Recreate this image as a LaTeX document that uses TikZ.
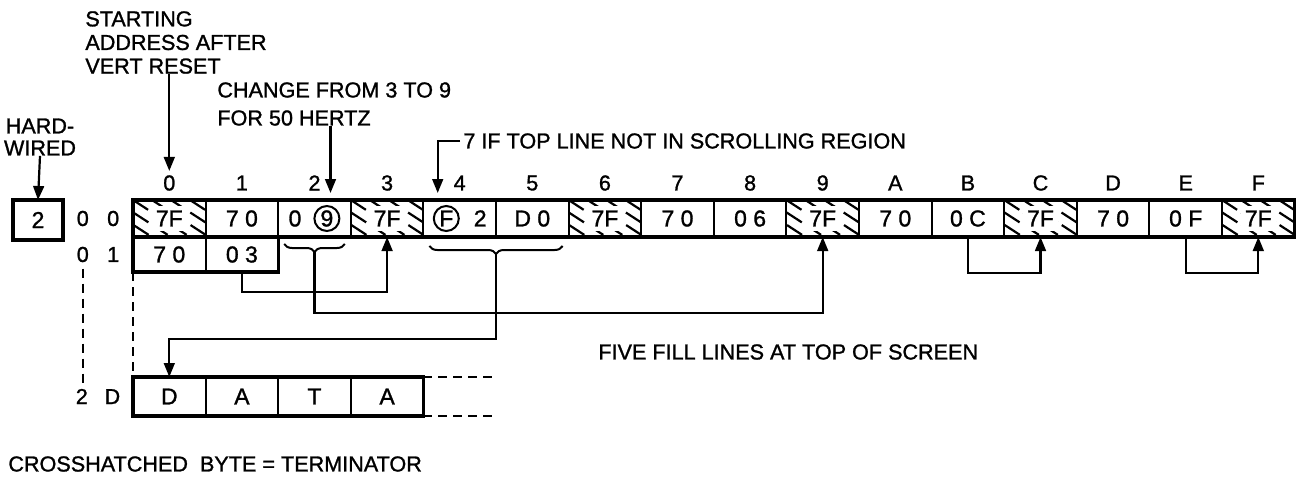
\documentclass[tikz,border=0pt]{standalone}
\usepackage{fontspec}
\setmainfont{Liberation Sans}[UprightFeatures={FakeBold=1.2}]
\usetikzlibrary{positioning, calc, arrows.meta, decorations.pathreplacing}
\tikzset{
  >={Triangle[length=7pt, width=5.4pt]},
  vt cell/.style={draw=black, minimum width=36.3pt, minimum height=18.5pt, inner sep=0pt,
    outer sep=0pt, line width=1pt, font=\fontsize{11.5}{12}\selectfont},
  vt txt/.style={fill=white, inner sep=2.2pt, font=\fontsize{11.5}{12}\selectfont},
  vt lab/.style={font=\fontsize{10.8}{12}\selectfont, inner sep=0pt},
  vt note/.style={font=\fontsize{10.8}{11.8}\selectfont, inner sep=0pt, align=left},
  vt arr/.style={draw=black, ->, line width=1.1pt},
  vt hatch/.style={draw=black, line width=1.1pt, dash pattern=on 9pt off 2.5pt},
  vt dash/.style={draw=black, line width=1.1pt, dash pattern=on 4.5pt off 3pt},
  vt brace/.style={draw=black, line width=1pt, decorate, decoration={brace, mirror, amplitude=4pt}},
  vt ring/.style={draw=black, circle, inner sep=0pt, minimum size=12.5pt, line width=1pt},
  vt frame/.style={draw=black, line width=1.7pt},
}
\newcommand\ringed[1]{\tikz[baseline=(rg.base)]\node[vt ring](rg){#1};}

\begin{document}
\begin{tikzpicture}[x=0.5pt, y=-0.5pt]
 \useasboundingbox (0,0) rectangle (1304,481);
 % row 00: sixteen bytes, hatched ones are terminators
 \foreach \cname/\ctext/\chat [count=\n from 0] in {0/7F/1, 1/{7 0}/0, 2/{0\hspace{6pt}\ringed{9}}/0,
     3/7F/1, 4/{\ringed{F}\hspace{7pt}2}/0, 5/{D 0}/0, 6/7F/1, 7/{7 0}/0, 8/{0 6}/0, 9/7F/1,
     A/{7 0}/0, B/{0 C}/0, C/7F/1, D/{7 0}/0, E/{0 F}/0, F/7F/1} {
   \node[vt cell] (b\cname) at ({169.3+72.6*\n},218.5) {};
   \ifnum\chat=1
     \begin{scope}
       \clip (b\cname.north west) rectangle (b\cname.south east);
       \foreach \k in {-3,...,4}
         \draw[vt hatch] ([xshift=\k*9.5pt]b\cname.north west) -- ++(60,39);
     \end{scope}
   \fi
   \node[vt txt] at (b\cname) {\ctext};
   \node[vt lab] (l\cname) at ([yshift=8.5pt]b\cname.north) {\cname};
 }
 \node[vt cell, minimum height=17.5pt, below=0pt of b0] (r0) {7 0};
 \node[vt cell, minimum height=17.5pt, right=0pt of r0] (r1) {0 3};
 \node[vt cell, minimum height=19.5pt] (d0) at (169.3,396.5) {D};
 \node[vt cell, minimum height=19.5pt, right=0pt of d0] (d1) {A};
 \node[vt cell, minimum height=19.5pt, right=0pt of d1] (d2) {T};
 \node[vt cell, minimum height=19.5pt, right=0pt of d2] (d3) {A};
 \draw[vt frame] (b0.north west) rectangle (bF.south east);
 \draw[vt frame] (r0.north west) rectangle (r1.south east);
 \draw[vt frame] (d0.north west) rectangle (d3.south east);
 \draw[vt dash] (d3.north east) -- ++(70,0);
 \draw[vt dash] (d3.south east) -- ++(70,0);

 % row addresses
 \node[vt cell, minimum width=25pt, minimum height=20pt, line width=1.6pt] (hw2) at (38,220) {2};
 \node[vt lab, font=\fontsize{10.8}{12}\selectfont] (row00) at (98,218.5) {0\hspace{9.2pt}0};
 \node[vt lab, font=\fontsize{10.8}{12}\selectfont] (row01) at (98,254.5) {0\hspace{9.2pt}1};
 \node[vt lab, font=\fontsize{10.8}{12}\selectfont] (row2D) at (98,396.5) {2\hspace{8.4pt}D};
 \draw[vt dash] ([xshift=-7.5pt,yshift=-3pt]row01.south) -- ([xshift=-7.5pt,yshift=3pt]row2D.north);
 \draw[vt dash] (r0.south west) -- (d0.north west);

 % notes
 \node[vt note, align=center, font=\fontsize{10.8}{11}\selectfont] (hard) at (40,137) {HARD-\\WIRED};
 \node[vt note, anchor=west] (start) at (85,42.5) {STARTING\\ADDRESS AFTER\\VERT RESET};
 \node[vt note, anchor=west, font=\fontsize{10.8}{14}\selectfont] (change) at (217,104)
   {CHANGE FROM 3 TO 9\\FOR 50 HERTZ};
 \node[vt note, anchor=west] (scroll) at (463,141) {7 IF TOP LINE NOT IN SCROLLING REGION};
 \node[vt note, anchor=west] (fill) at (598,352) {FIVE FILL LINES AT TOP OF SCREEN};
 \node[vt note, anchor=west] (legend) at (8,464) {CROSSHATCHED\ \ BYTE = TERMINATOR};
 \coordinate (chtip) at ([xshift=8pt,yshift=3.5pt]b2.north);
 \coordinate (sctip) at ([xshift=-11pt,yshift=3.5pt]b4.north);
 \draw[vt arr] (hard.south) -- (hw2.north);
 \draw[vt arr, shorten >=2pt] (start.south -| l0) -- (l0.north);
 \draw[vt arr] (change.south -| chtip) -- (chtip);
 \draw[vt arr] ([xshift=-1.5pt]scroll.west) -| (sctip);

 % braces and links
 \draw[vt brace] ([xshift=3pt,yshift=-3.5pt]b2.south west) -- ([xshift=-3pt,yshift=-3.5pt]b2.south east);
 \draw[vt brace] ([xshift=3pt,yshift=-4.5pt]b4.south west) -- ([xshift=-3pt,yshift=-4.5pt]b5.south east);
 \coordinate (tip2) at ([yshift=-7.5pt]b2.south);
 \coordinate (tip45) at ([yshift=-8.5pt]b4.south east);
 \draw[vt arr] (r1.south) -- ++(0,20) -| (b3.south);
 \draw[vt arr] (tip2) -- ++(0,61) -| (b9.south);
 \draw[vt arr] (tip45) -- ++(0,85) -| (d0.north);
 \draw[vt arr] (bB.south) -- ++(0,36) -| (bC.south);
 \draw[vt arr] (bE.south) -- ++(0,36) -| (bF.south);
\end{tikzpicture}
\end{document}
